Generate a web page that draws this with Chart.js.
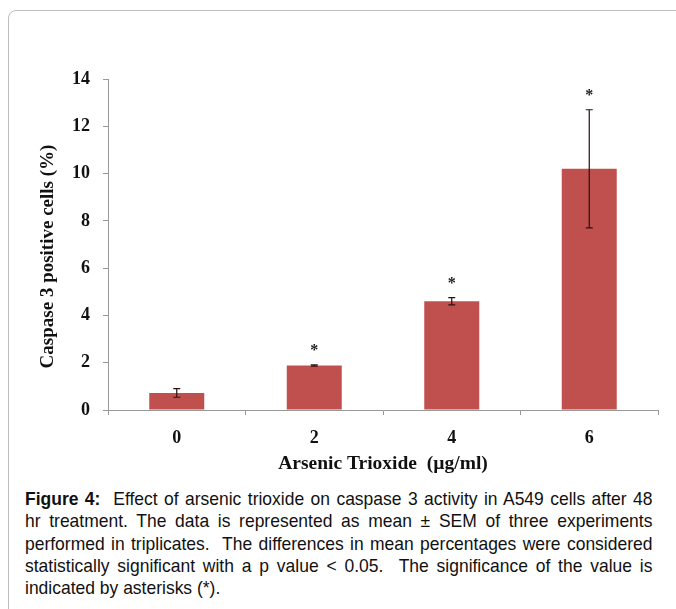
<!DOCTYPE html>
<html>
<head>
<meta charset="utf-8">
<script src="https://cdn.jsdelivr.net/npm/chart.js@4.4.1/dist/chart.umd.min.js"></script>
<style>
  html, body { margin: 0; padding: 0; background: #fff; }
  body { width: 676px; height: 609px; position: relative; overflow: hidden; }
  .frame {
    position: absolute; left: 8px; top: 10px; width: 720px; height: 660px;
    border: 1px solid #bdbdbd; border-radius: 8px;
  }
  .wrap { position: absolute; left: 0; top: 0; width: 676px; height: 480px; }
  .caption {
    position: absolute; left: 25px; top: 488px; width: 682px; margin: 0;
    transform: scaleX(0.92); transform-origin: 0 0;
    font-family: "Liberation Sans", Arial, sans-serif;
    font-size: 19px; line-height: 22.25px; color: #111;
  }
  .caption span { display: block; white-space: nowrap; text-align: justify; text-align-last: justify; }
  .caption span.last { text-align-last: left; }
</style>
</head>
<body>
<div class="frame"></div>
<div class="wrap"><canvas id="caspaseChart"></canvas></div>
<p class="caption">
<span><b>Figure 4:</b>&nbsp; Effect of arsenic trioxide on caspase 3 activity in A549 cells after 48</span>
<span>hr treatment. The data is represented as mean ± SEM of three experiments</span>
<span>performed in triplicates.&nbsp; The differences in mean percentages were considered</span>
<span>statistically significant with a p value &lt; 0.05.&nbsp; The significance of the value is</span>
<span class="last">indicated by asterisks (*).</span>
</p>

<script>
// Datos
const doses = ["0", "2", "4", "6"];
const caspaseMean = [0.72, 1.88, 4.6, 10.2];
const caspaseSem = [0.18, 0.03, 0.15, 2.5];
const significant = [false, true, true, true];
const yTicks = [0, 2, 4, 6, 8, 10, 12, 14];
const xTitle = "Arsenic Trioxide  (µg/ml)";
const yTitle = "Caspase 3 positive cells (%)";

const serif = "'Liberation Serif', 'Times New Roman', serif";

// barras de error, asteriscos y títulos de ejes
const errorBars = {
    id: "errorBars",
    afterDatasetsDraw(chart) {
        const { ctx, chartArea, scales: { y } } = chart;
        const meta = chart.getDatasetMeta(0);
        ctx.save();
        meta.data.forEach((bar, i) => {
            const top = y.getPixelForValue(caspaseMean[i] + caspaseSem[i]);
            const bot = y.getPixelForValue(caspaseMean[i] - caspaseSem[i]);
            ctx.strokeStyle = "#2a1010";
            ctx.lineWidth = 1.2;
            ctx.beginPath();
            ctx.moveTo(bar.x, top); ctx.lineTo(bar.x, bot);
            ctx.moveTo(bar.x - 3.5, top); ctx.lineTo(bar.x + 3.5, top);
            ctx.moveTo(bar.x - 3.5, bot); ctx.lineTo(bar.x + 3.5, bot);
            ctx.stroke();
            if (significant[i]) {
                ctx.fillStyle = "#222";
                ctx.font = "bold 16px " + serif;
                ctx.textAlign = "center";
                ctx.textBaseline = "middle";
                ctx.fillText("*", bar.x, top - 14);
            }
        });

        ctx.fillStyle = "#111";
        ctx.font = "bold 19.5px " + serif;
        ctx.textAlign = "center";
        ctx.textBaseline = "middle";
        ctx.fillText(xTitle, (chartArea.left + chartArea.right) / 2, chartArea.bottom + 54);

        ctx.translate(chartArea.left - 60, (chartArea.top + chartArea.bottom) / 2 + 12);
        ctx.rotate(-Math.PI / 2);
        ctx.font = "bold 19px " + serif;
        ctx.fillText(yTitle, 0, 0);
        ctx.restore();
    }
};

new Chart(document.getElementById("caspaseChart"), {
    type: "bar",
    data: {
        labels: doses,
        datasets: [{
            label: "Caspase 3",
            data: caspaseMean,
            backgroundColor: "#c0504d",
            barPercentage: 0.4,
            categoryPercentage: 1
        }]
    },
    options: {
        responsive: true,
        maintainAspectRatio: false,
        animation: false,
        layout: { padding: { left: 0, top: 79, right: 18, bottom: 0 } },
        plugins: { legend: { display: false }, tooltip: { enabled: false } },
        scales: {
            x: {
                grid: { drawOnChartArea: false, drawTicks: true, tickLength: 5, color: "#999" },
                border: { color: "#999" },
                ticks: { color: "#111", font: { family: serif, weight: "bold", size: 18 }, padding: 13 },
                afterFit: (scale) => { scale.height = 70; }
            },
            y: {
                min: 0,
                max: 14,
                afterBuildTicks: (scale) => { scale.ticks = yTicks.map(v => ({ value: v })); },
                grid: { drawOnChartArea: false, drawTicks: true, tickLength: 5, color: "#999" },
                border: { color: "#999" },
                ticks: { color: "#111", font: { family: serif, weight: "bold", size: 18 }, padding: 13 },
                afterFit: (scale) => { scale.width = 108; }
            }
        }
    },
    plugins: [errorBars]
});
</script>
</body>
</html>
